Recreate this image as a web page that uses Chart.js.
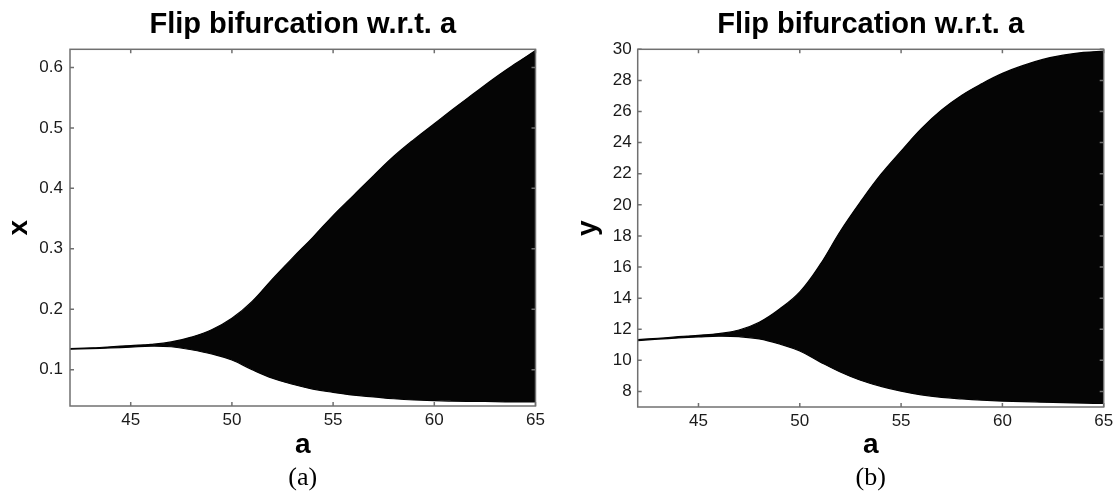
<!DOCTYPE html>
<html>
<head>
<meta charset="utf-8">
<script src="https://cdn.jsdelivr.net/npm/chart.js@4.4.0/dist/chart.umd.min.js"></script>
<style>
html,body{margin:0;padding:0;background:#fff;}
#wrap{position:relative;width:1118px;height:495px;overflow:hidden;background:#fff;}
canvas{position:absolute;top:0;}
</style>
</head>
<body>
<div id="wrap">
<canvas id="c1" width="559" height="495" style="left:0px"></canvas>
<canvas id="c2" width="559" height="495" style="left:559px"></canvas>
</div>
<script>
// ---- data ----
const aValues = [42,43,44,45,46,47,48,49,50,51,52,53,54,55,56,57,58,59,60,61,62,63,64,65];
const xUpper  = [0.135,0.136,0.138,0.140,0.142,0.146,0.154,0.166,0.185,0.213,0.250,0.285,0.319,0.355,0.388,0.421,0.453,0.481,0.507,0.533,0.558,0.583,0.606,0.628];
const xLower  = [0.134,0.135,0.136,0.1375,0.139,0.138,0.133,0.126,0.116,0.100,0.086,0.076,0.068,0.0625,0.058,0.055,0.052,0.050,0.049,0.048,0.0477,0.0472,0.0468,0.0466];
const yUpper  = [11.33,11.42,11.52,11.61,11.72,11.95,12.45,13.3,14.4,16.15,18.3,20.2,21.95,23.45,24.9,26.1,27.05,27.8,28.45,28.95,29.35,29.62,29.8,29.88];
const yLower  = [11.27,11.36,11.44,11.5,11.55,11.52,11.38,11.05,10.6,9.9,9.25,8.72,8.33,8.02,7.78,7.62,7.52,7.44,7.38,7.34,7.31,7.28,7.25,7.23];

// faint vertical gaps in the cloud
const gapA_x   = [60.12, 62.55];
const gapLo_x  = [0.050, 0.060];
const gapHi_x  = [0.505, 0.555];
const gapA_y   = [60.05, 62.5];
const gapLo_y  = [7.45, 7.5];
const gapHi_y  = [28.3, 29.2];

const aTicks   = [45,50,55,60,65];
const xTicks   = [0.1,0.2,0.3,0.4,0.5,0.6];
const yTicks   = [8,10,12,14,16,18,20,22,24,26,28,30];
const titleText = 'Flip bifurcation w.r.t. a';

// ---- helpers ----
const SANS = "'Liberation Sans', Arial, Helvetica, sans-serif";
const SERIF = "'Liberation Serif', 'Times New Roman', serif";

const pts = (xs, ys) => xs.map((v, i) => ({x: v, y: ys[i]}));

const framePlugin = {
  id: 'matlabFrame',
  afterDatasetsDraw(chart) {
    const {ctx, chartArea, scales} = chart;
    const {left, right, top, bottom} = chartArea;
    const sx = scales.x, sy = scales.y;
    ctx.save();
    ctx.strokeStyle = '#707070';
    ctx.lineWidth = 1.5;
    ctx.beginPath();
    sx.ticks.forEach(t => {
      const p = sx.getPixelForValue(t.value);
      ctx.moveTo(p, bottom); ctx.lineTo(p, bottom - 4);
      ctx.moveTo(p, top); ctx.lineTo(p, top + 4);
    });
    sy.ticks.forEach(t => {
      const p = sy.getPixelForValue(t.value);
      ctx.moveTo(left, p); ctx.lineTo(left + 4, p);
      ctx.moveTo(right, p); ctx.lineTo(right - 4, p);
    });
    ctx.stroke();
    ctx.strokeRect(left, top, right - left, bottom - top);
    ctx.restore();
  }
};

function makeChart(id, cfg) {
  const gapSets = cfg.gapA.map((a, i) => ({
    type: 'line',
    data: [{x: a, y: cfg.gapLo[i]}, {x: a, y: cfg.gapHi[i]}],
    borderColor: i === 0 ? 'rgba(140,140,140,0.75)' : 'rgba(140,140,140,0.45)',
    borderWidth: 1,
    borderDash: [7, 5],
    pointRadius: 0,
    fill: false
  }));
  return new Chart(document.getElementById(id), {
    type: 'line',
    data: {
      datasets: [
        {
          data: pts(aValues, cfg.upper),
          borderColor: '#000',
          backgroundColor: '#050505',
          borderWidth: 1.2,
          pointRadius: 0,
          tension: 0.4,
          fill: '+1'
        },
        {
          data: pts(aValues, cfg.lower),
          borderColor: '#000',
          borderWidth: 1.2,
          pointRadius: 0,
          tension: 0.4,
          fill: false
        },
        ...gapSets
      ]
    },
    options: {
      responsive: false,
      animation: false,
      devicePixelRatio: 1,
      layout: {padding: {left: 0, right: cfg.padRight, top: 0, bottom: 0}},
      plugins: {
        legend: {display: false},
        tooltip: {enabled: false},
        title: {
          display: true,
          text: titleText,
          fullSize: false,
          color: '#000',
          font: {family: SANS, size: 29, weight: 'bold', lineHeight: 1.2},
          padding: {top: 7.5, bottom: 7}
        },
        subtitle: {
          display: true,
          position: 'bottom',
          text: cfg.caption,
          fullSize: false,
          color: '#000',
          font: {family: SERIF, size: 26, weight: 'normal', lineHeight: 1.2},
          padding: {top: 0, bottom: 1.5}
        }
      },
      scales: {
        x: {
          type: 'linear',
          min: 42, max: 65,
          grid: {display: false, drawTicks: false},
          border: {display: false},
          afterBuildTicks: s => { s.ticks = aTicks.map(v => ({value: v})); },
          afterFit: s => { s.height = cfg.xAxisH; },
          ticks: {
            color: '#1a1a1a',
            font: {family: SANS, size: 17},
            padding: 4,
            maxRotation: 0,
            autoSkip: false,
            callback: v => String(v)
          },
          title: {
            display: true,
            text: 'a',
            color: '#000',
            font: {family: SANS, size: 28, weight: 'bold', lineHeight: 1},
            padding: {top: 0, bottom: 3.5}
          }
        },
        y: {
          type: 'linear',
          min: cfg.yMin, max: cfg.yMax,
          grid: {display: false, drawTicks: false},
          border: {display: false},
          afterBuildTicks: s => { s.ticks = cfg.yTicks.map(v => ({value: v})); },
          afterFit: s => { s.width = cfg.yAxisW; },
          ticks: {
            color: '#1a1a1a',
            font: {family: SANS, size: 17},
            padding: cfg.yTickPad,
            autoSkip: false,
            callback: cfg.yFmt
          },
          title: {
            display: true,
            text: cfg.yTitle,
            color: '#000',
            font: {family: SANS, size: 28, weight: 'bold', lineHeight: 1},
            padding: {top: cfg.yTitlePad, bottom: 0}
          }
        }
      }
    },
    plugins: [framePlugin]
  });
}

makeChart('c1', {
  upper: xUpper, lower: xLower,
  gapA: gapA_x, gapLo: gapLo_x, gapHi: gapHi_x,
  yMin: 0.04, yMax: 0.63, yTicks: xTicks, yFmt: v => v.toFixed(1),
  yTitle: 'x', yTitlePad: 5, yTickPad: 7,
  yAxisW: 70, padRight: 23.5, xAxisH: 56.3, caption: '(a)'
});

makeChart('c2', {
  upper: yUpper, lower: yLower,
  gapA: gapA_y, gapLo: gapLo_y, gapHi: gapHi_y,
  yMin: 7, yMax: 30, yTicks: yTicks, yFmt: v => String(v),
  yTitle: 'y', yTitlePad: 15, yTickPad: 6,
  yAxisW: 78.7, padRight: 14.3, xAxisH: 55.3, caption: '(b)'
});
</script>
</body>
</html>
